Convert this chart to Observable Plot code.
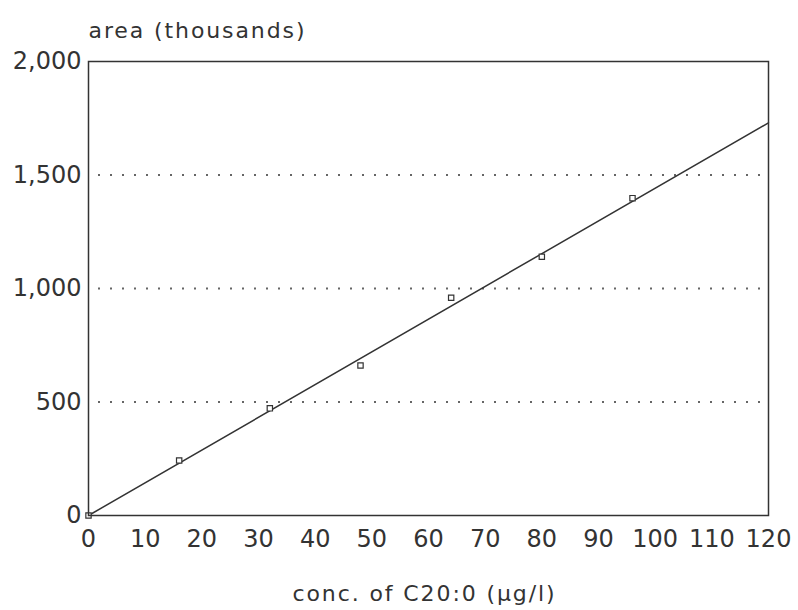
<!DOCTYPE html>
<html>
<head>
<meta charset="utf-8">
<script src="https://cdn.jsdelivr.net/npm/d3@7"></script>
<script src="https://cdn.jsdelivr.net/npm/@observablehq/plot@0.6"></script>
<style>
  html, body { margin: 0; padding: 0; background: #fff; }
  #chart { width: 798px; height: 610px; }
</style>
</head>
<body>
<div id="chart"></div>
<script>
// Measured calibration points
const concentrations = [0, 16, 32, 48, 64, 80, 96];
const areas = [0, 242, 472, 661, 959, 1140, 1398];

// Fitted calibration line (end points)
const fitConc = [0, 120];
const fitArea = [0, 1730];

// Axis ticks and texts
const xTicks = [0, 10, 20, 30, 40, 50, 60, 70, 80, 90, 100, 110, 120];
const yTicks = [0, 500, 1000, 1500, 2000];
const gridValues = [500, 1000, 1500];
const yTitle = "area (thousands)";
const xTitle = "conc. of C20:0 (µg/l)";

const points = concentrations.map((c, i) => ({c, a: areas[i]}));
const fit = fitConc.map((c, i) => ({c, a: fitArea[i]}));

const ink = "#333";

const chart = Plot.plot({
  width: 798,
  height: 610,
  marginLeft: 88,
  marginRight: 30,
  marginTop: 61,
  marginBottom: 95,
  style: {fontFamily: "DejaVu Sans, sans-serif", color: ink, background: "#fff"},
  x: {domain: [0, 120]},
  y: {domain: [0, 2000]},
  marks: [
    Plot.ruleY(gridValues, {stroke: "#666", strokeWidth: 2, strokeDasharray: "2,10", strokeDashoffset: -10}),
    Plot.line(fit, {x: "c", y: "a", stroke: ink, strokeWidth: 1.5}),
    Plot.dot(points, {x: "c", y: "a", symbol: "square", r: 3, stroke: ink, strokeWidth: 1.2, fill: "white"}),
    Plot.frame({stroke: ink, strokeWidth: 1.5}),
    Plot.axisX({ticks: xTicks, tickSize: 0, tickPadding: 14, fontSize: 24, label: null, tickFormat: d3.format("d")}),
    Plot.axisY({ticks: yTicks, tickSize: 0, tickPadding: 7, fontSize: 24, label: null, tickFormat: d3.format(",")}),
    Plot.text([yTitle], {frameAnchor: "top-left", text: d => d, textAnchor: "start", lineAnchor: "bottom", dy: -24, fontSize: 22, fill: ink}),
    Plot.text([xTitle], {frameAnchor: "bottom", text: d => d, textAnchor: "middle", lineAnchor: "bottom", dx: -4, dy: 85, fontSize: 22, fill: ink})
  ]
});
chart.querySelectorAll("text").forEach(t => {
  if (t.textContent === xTitle || t.textContent === yTitle) t.setAttribute("letter-spacing", "1.9");
});
document.getElementById("chart").appendChild(chart);
</script>
</body>
</html>
